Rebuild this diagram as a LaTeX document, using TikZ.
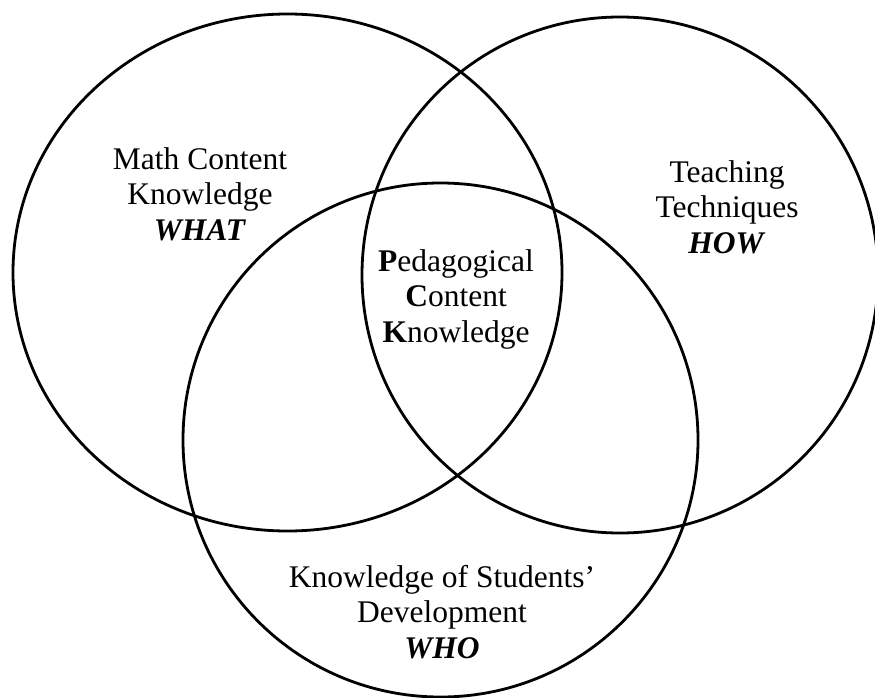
\documentclass[tikz,border=0pt]{standalone}
\usepackage{fontspec}
\setmainfont{Liberation Serif}
\usetikzlibrary{shapes.geometric}
\tikzstyle{set} = [ellipse, draw, line width=2.8pt, inner sep=0pt]
\tikzstyle{setname} = [align=center, inner sep=0pt,
    font=\fontsize{31.5}{35.5}\selectfont, anchor=base]

\begin{document}
\begin{tikzpicture}[x=1pt,y=-1pt]
    \useasboundingbox (0,0) rectangle (875,698);
    % Place sets
    \node [set, minimum width=549pt, minimum height=517pt] (mathset) at (287.5,272.5) {};
    \node [set, minimum width=516pt, minimum height=516pt] (teachset) at (620,275) {};
    \node [set, minimum width=515pt, minimum height=514pt] (studset) at (440.5,440) {};
    % Place labels (anchored at the last line)
    \node [setname] (math) at (200,240) {Math Content\\Knowledge\\\textbf{\textit{WHAT}}};
    \node [setname] (teach) at (727,253) {Teaching\\Techniques\\\textbf{\textit{HOW}}};
    \node [setname] (pck) at (456,342) {\textbf{P}edagogical\\\textbf{C}ontent\\\textbf{K}nowledge};
    \node [setname] (stud) at (442,658) {Knowledge of Students'\\Development\\\textbf{\textit{WHO}}};
\end{tikzpicture}
\end{document}
